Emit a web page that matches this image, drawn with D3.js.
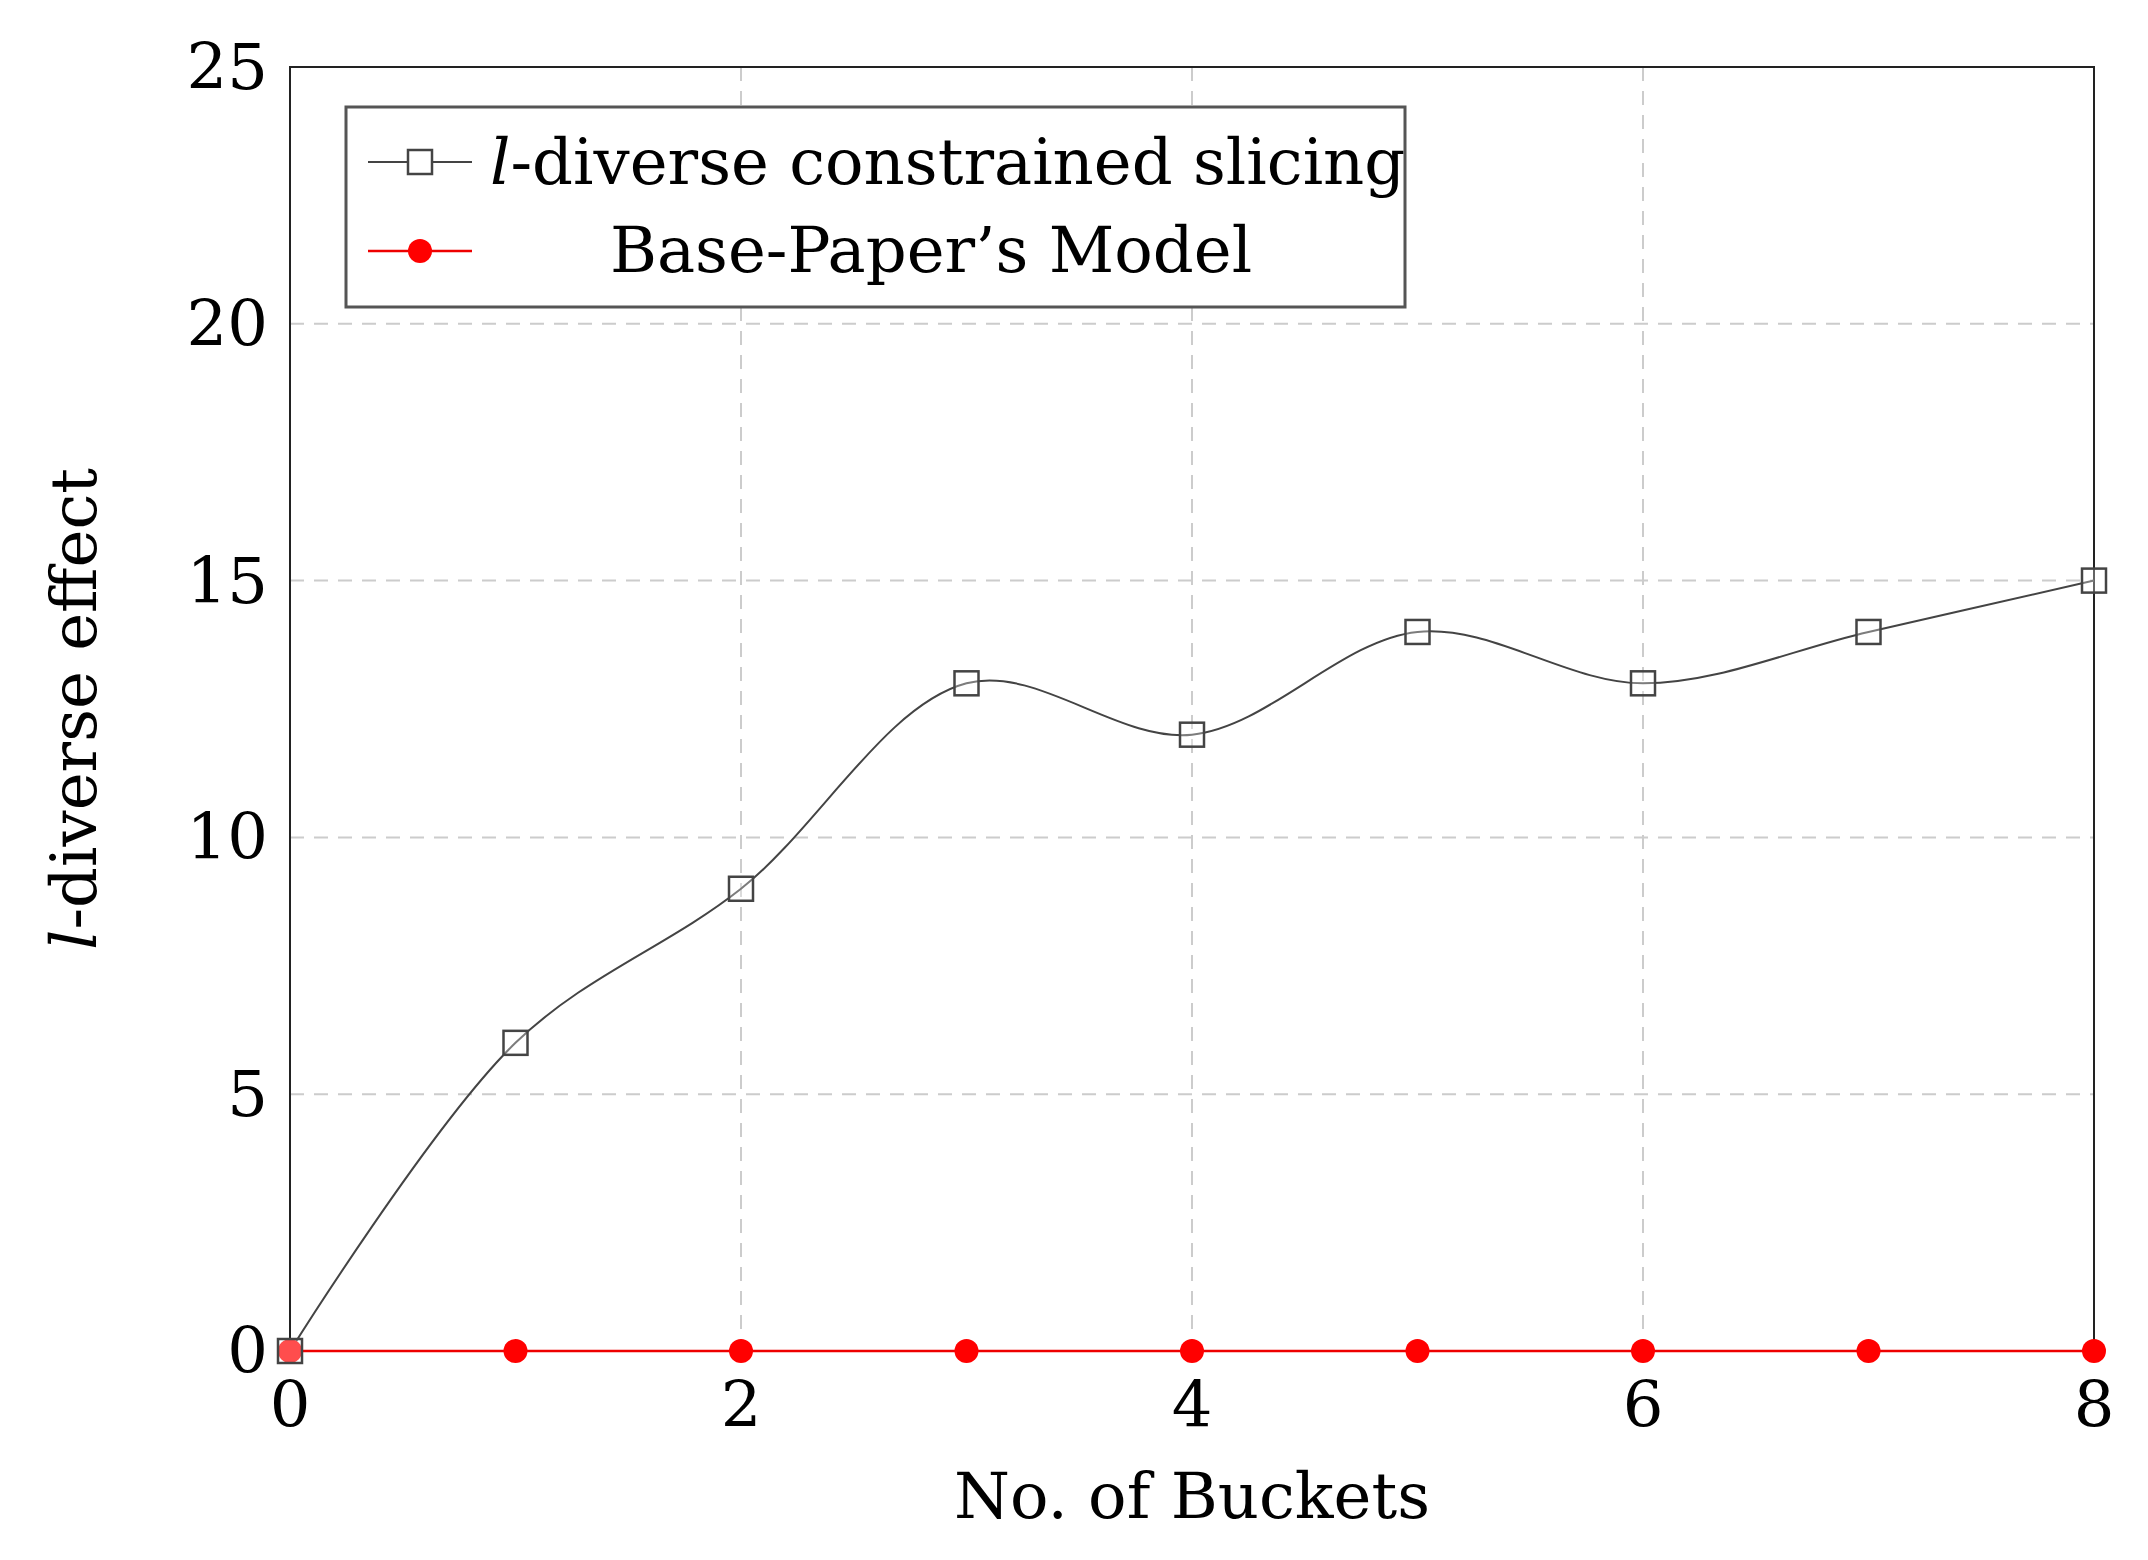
<!DOCTYPE html>
<html><head><meta charset="utf-8">
<script src="https://cdn.jsdelivr.net/npm/d3@7"></script>
<style>body{margin:0;background:#fff}text{font-family:"DejaVu Serif","Liberation Serif",serif}</style>
</head><body>
<svg width="2148" height="1560"></svg>
<script>
const buckets = [0, 1, 2, 3, 4, 5, 6, 7, 8];
const slicing = [0, 6, 9, 13, 12, 14, 13, 14, 15];
const baseModel = [0, 0, 0, 0, 0, 0, 0, 0, 0];
const xTicks = [0, 2, 4, 6, 8];
const yTicks = [0, 5, 10, 15, 20, 25];

const svg = d3.select("svg");
const pLeft = 290, pRight = 2094, pTop = 67, pBottom = 1351;
const x = d3.scaleLinear().domain([0, 8]).range([pLeft, pRight]);
const y = d3.scaleLinear().domain([0, 25]).range([pBottom, pTop]);
const fs = 64;

// grid
svg.append("g").selectAll("line").data(yTicks.slice(1, -1)).join("line")
  .attr("x1", pLeft).attr("x2", pRight).attr("y1", d => y(d)).attr("y2", d => y(d))
  .attr("stroke", "#ccc").attr("stroke-width", 2).attr("stroke-dasharray", "14,10");
svg.append("g").selectAll("line").data(xTicks.slice(1, -1)).join("line")
  .attr("y1", pTop).attr("y2", pBottom).attr("x1", d => x(d)).attr("x2", d => x(d))
  .attr("stroke", "#ccc").attr("stroke-width", 2).attr("stroke-dasharray", "14,10");

svg.append("rect").attr("x", pLeft).attr("y", pTop).attr("width", pRight - pLeft).attr("height", pBottom - pTop)
  .attr("fill", "none").attr("stroke", "#222").attr("stroke-width", 2);

// ticks
svg.append("g").selectAll("text").data(yTicks).join("text")
  .attr("x", pLeft - 22).attr("y", d => y(d) + 22).attr("text-anchor", "end")
  .attr("font-size", fs).text(d => d);
svg.append("g").selectAll("text").data(xTicks).join("text")
  .attr("x", d => x(d)).attr("y", pBottom + 76).attr("text-anchor", "middle")
  .attr("font-size", fs).text(d => d);

svg.append("text").attr("x", (pLeft + pRight) / 2).attr("y", 1518).attr("text-anchor", "middle")
  .attr("font-size", fs).text("No. of Buckets");
svg.append("text").attr("transform", "translate(96,709) rotate(-90)").attr("text-anchor", "middle")
  .attr("font-size", fs)
  .html('<tspan font-style="italic">l</tspan>-diverse effect');

const line = d3.line().x((d, i) => x(buckets[i])).y(d => y(d)).curve(d3.curveCatmullRom.alpha(0.5));
svg.append("path").attr("d", line(baseModel)).attr("fill", "none").attr("stroke", "#e00").attr("stroke-width", 2.5);
svg.append("path").attr("d", line(slicing)).attr("fill", "none").attr("stroke", "#444").attr("stroke-width", 2);

svg.append("g").selectAll("circle").data(baseModel).join("circle")
  .attr("cx", (d, i) => x(buckets[i])).attr("cy", d => y(d)).attr("r", 12).attr("fill", "#f00");
svg.append("g").selectAll("rect").data(slicing).join("rect")
  .attr("x", (d, i) => x(buckets[i]) - 12).attr("y", d => y(d) - 12).attr("width", 24).attr("height", 24)
  .attr("fill", "#fff").attr("fill-opacity", 0.3).attr("stroke", "#444").attr("stroke-width", 2.5);

// legend
const lg = svg.append("g");
lg.append("rect").attr("x", 346).attr("y", 107).attr("width", 1059).attr("height", 200)
  .attr("fill", "#fff").attr("stroke", "#555").attr("stroke-width", 3);
lg.append("line").attr("x1", 368).attr("x2", 472).attr("y1", 162).attr("y2", 162).attr("stroke", "#444").attr("stroke-width", 2);
lg.append("rect").attr("x", 408).attr("y", 150).attr("width", 24).attr("height", 24).attr("fill", "#fff").attr("stroke", "#444").attr("stroke-width", 2.5);
lg.append("line").attr("x1", 368).attr("x2", 472).attr("y1", 251).attr("y2", 251).attr("stroke", "#e00").attr("stroke-width", 2.5);
lg.append("circle").attr("cx", 420).attr("cy", 251).attr("r", 12).attr("fill", "#f00");
lg.append("text").attr("x", 490).attr("y", 184).attr("font-size", fs)
  .html('<tspan font-style="italic">l</tspan>-diverse constrained slicing');
lg.append("text").attr("x", 931).attr("y", 272).attr("text-anchor", "middle").attr("font-size", fs).text("Base-Paper’s Model");
</script>
</body></html>
